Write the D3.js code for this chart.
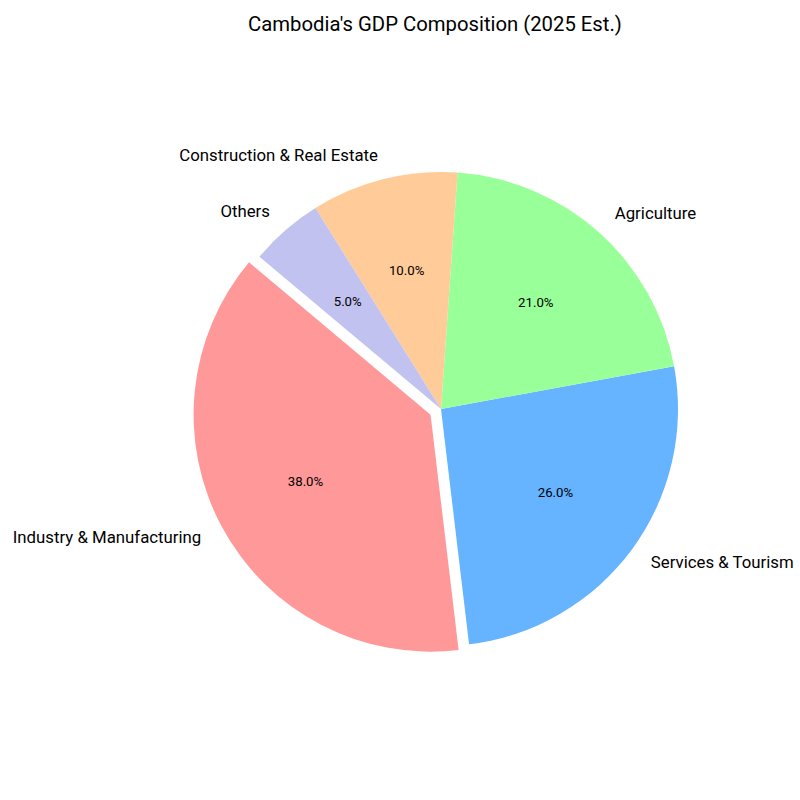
<!DOCTYPE html>
<html>
<head>
<meta charset="utf-8">
<script src="https://cdn.jsdelivr.net/npm/d3@7"></script>
<style>
  body { margin: 0; background: #fff; }
  text { font-family: Roboto, "Open Sans", sans-serif; fill: #000; }
</style>
</head>
<body>
<div id="graphic"></div>
<script>
const categories = ["Industry & Manufacturing", "Services & Tourism", "Agriculture", "Construction & Real Estate", "Others"]
const shares = [38, 26, 21, 10, 5]
const colors = ["#ff9999", "#66b3ff", "#99ff99", "#ffcc99", "#c2c2f0"]
const explode = [0.05, 0, 0, 0, 0]

const width = 800
const height = 800
const cx = 441
const cy = 409
const radius = 237
const startAngle = 140 // degrees, counterclockwise from 3 o'clock

let svg = d3.select("#graphic").append("svg")
    .attr("width", width)
    .attr("height", height)

svg.append("text")
    .attr("x", 435)
    .attr("y", 31)
    .attr("text-anchor", "middle")
    .style("font-size", "20.3px")
    .text("Cambodia's GDP Composition (2025 Est.)")

// matplotlib style: counterclockwise from startAngle -> d3 angles are clockwise from 12 o'clock
const toD3 = deg => (90 - deg) * Math.PI / 180

let pie = d3.pie()
    .sort(null)
    .value(d => d)
    .startAngle(toD3(startAngle))
    .endAngle(toD3(startAngle) - 2 * Math.PI)

let arcs = pie(shares)

let arc = d3.arc()
    .innerRadius(0)
    .outerRadius(radius)

let g = svg.append("g")
    .attr("transform", "translate(" + cx + "," + cy + ")")

function midVec(d) {
    const a = (d.startAngle + d.endAngle) / 2
    return [Math.sin(a), -Math.cos(a)]
}

let slices = g.selectAll(null)
    .data(arcs)
    .enter().append("g")
    .attr("transform", function (d, i) {
        const v = midVec(d)
        const off = explode[i] * radius
        return "translate(" + v[0] * off + "," + v[1] * off + ")"
    })

slices.append("path")
    .attr("d", arc)
    .attr("fill", (d, i) => colors[i])

// category labels at 1.1 r
slices.append("text")
    .attr("x", d => midVec(d)[0] * radius * 1.1)
    .attr("y", d => midVec(d)[1] * radius * 1.1)
    .attr("dy", "0.28em")
    .attr("text-anchor", d => midVec(d)[0] > 0 ? "start" : "end")
    .style("font-size", "16.8px")
    .text((d, i) => categories[i])

// percentage labels at 0.6 r
slices.append("text")
    .attr("x", d => midVec(d)[0] * radius * 0.6)
    .attr("y", d => midVec(d)[1] * radius * 0.6)
    .attr("dy", "0.3em")
    .attr("text-anchor", "middle")
    .style("font-size", "13.2px")
    .text(d => d.value.toFixed(1) + "%")
</script>
</body>
</html>
